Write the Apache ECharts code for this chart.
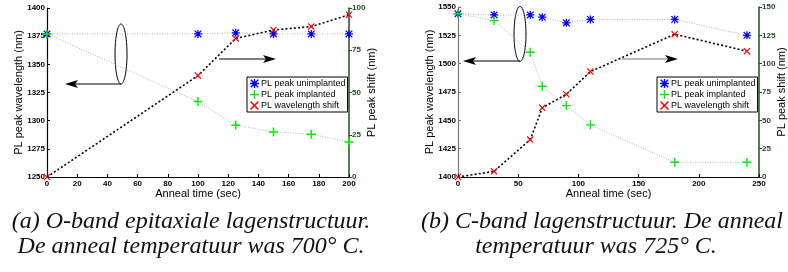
<!DOCTYPE html>
<html>
<head>
<meta charset="utf-8">
<script src="https://cdn.jsdelivr.net/npm/echarts@6/dist/echarts.min.js"></script>
<style>
  html, body { margin: 0; padding: 0; background: #fff; }
  #chart { width: 788px; height: 272px; }
</style>
</head>
<body>
<div id="chart"></div>
<script>
// (a) O-band, 700 C
const timeA = [0, 100, 125, 150, 175, 200];
const unimplA = [1377, 1377, 1378, 1377, 1377, 1377];
const implA = [1377, 1317, 1296, 1290, 1288, 1281];
const shiftA = [0, 60, 82, 87, 89, 96];

// (b) C-band, 725 C
const timeB = [0, 30, 60, 70, 90, 110, 180, 240];
const unimplB = [1544, 1543, 1543, 1541, 1536, 1539, 1539, 1525];
const implB = [1544, 1538, 1510, 1480, 1463, 1446, 1413, 1413];
const shiftB = [0, 5, 33, 61, 73, 93, 126, 111];

// as: [min, max, interval]
const xRangeA = [0, 200, 20];
const yRangeA = [1250, 1400, 25];
const y2RangeA = [0, 100, 25];
const xRangeB = [0, 250, 50];
const yRangeB = [1400, 1550, 25];
const y2RangeB = [0, 150, 25];

const names = ['PL peak unimplanted', 'PL peak implanted', 'PL wavelength shift'];
const captionA = ['(a) O-band epitaxiale lagenstructuur.', 'De anneal temperatuur was 700\u00b0 C.'];
const captionB = ['(b) C-band lagenstructuur. De anneal', 'temperatuur was 725\u00b0 C.'];

const symStar = 'path://M4.2,0H5.8V4.2H10V5.8H5.8V10H4.2V5.8H0V4.2H4.2Z M1.4,0.3L5,3.9L8.6,0.3L9.7,1.4L6.1,5L9.7,8.6L8.6,9.7L5,6.1L1.4,9.7L0.3,8.6L3.9,5L0.3,1.4Z';
const symPlus = 'path://M4.2,0H5.8V4.2H10V5.8H5.8V10H4.2V5.8H0V4.2H4.2Z';
const symCross = 'path://M1.2,0L5,3.8L8.8,0L10,1.2L6.2,5L10,8.8L8.8,10L5,6.2L1.2,10L0,8.8L3.8,5L0,1.2Z';

const green = '#1f4f1f';
const font = 'Liberation Sans, Arial, sans-serif';
const pairs = (xs, ys) => xs.map((x, i) => [x, ys[i]]);
const plain = v => String(v);

const xAxisOf = (grid, r) => ({
  type: 'value', gridIndex: grid, min: r[0], max: r[1], interval: r[2],
  name: 'Anneal time (sec)', nameLocation: 'middle', nameGap: 11, nameMoveOverlap: false,
  nameTextStyle: { fontFamily: font, fontSize: 11, color: '#000' },
  axisLine: { lineStyle: { color: '#000', width: 1.2 } },
  axisTick: { inside: true, length: 3, lineStyle: { color: '#000' } },
  axisLabel: { margin: 3, fontFamily: font, fontSize: 8, fontWeight: 'bold', color: '#000', formatter: plain },
  splitLine: { show: false }
});
const yLeftOf = (grid, r, lineColor) => ({
  type: 'value', gridIndex: grid, position: 'left', min: r[0], max: r[1], interval: r[2],
  name: 'PL peak wavelength (nm)', nameLocation: 'middle', nameGap: 23, nameRotate: 90, nameMoveOverlap: false,
  nameTextStyle: { fontFamily: font, fontSize: 11, color: '#000' },
  axisLine: { show: true, lineStyle: { color: lineColor, width: 1.2 } },
  axisTick: { inside: true, length: 3, lineStyle: { color: lineColor } },
  axisLabel: { margin: 2, fontFamily: font, fontSize: 8, fontWeight: 'bold', color: '#000', formatter: plain },
  splitLine: { show: false }
});
const yRightOf = (grid, r) => ({
  type: 'value', gridIndex: grid, position: 'right', min: r[0], max: r[1], interval: r[2],
  name: 'PL peak shift (nm)', nameLocation: 'middle', nameGap: 17, nameRotate: 90, nameMoveOverlap: false,
  nameTextStyle: { fontFamily: font, fontSize: 11, color: '#000' },
  axisLine: { show: true, lineStyle: { color: green, width: 1.5 } },
  axisTick: { inside: false, length: 3, lineStyle: { color: green } },
  axisLabel: { margin: 3, fontFamily: font, fontSize: 8, fontWeight: 'bold', color: green, formatter: plain },
  splitLine: { show: false }
});

const grayLine = { color: '#b4b4b4', width: 1, type: [1, 1.5] };
const blackLine = { color: '#000', width: 1.6, type: [2, 2.2] };

const seriesOf = (x, yAxisLeft, yAxisRight, unimpl, impl, shift) => [
  { name: names[0], type: 'line', xAxisIndex: x, yAxisIndex: yAxisLeft, data: unimpl,
    symbol: symStar, symbolSize: 8, lineStyle: grayLine, itemStyle: { color: '#0000ff' }, z: 3 },
  { name: names[1], type: 'line', xAxisIndex: x, yAxisIndex: yAxisLeft, data: impl,
    symbol: symPlus, symbolSize: 9, lineStyle: grayLine, itemStyle: { color: '#00ee00' }, z: 3 },
  { name: names[2], type: 'line', xAxisIndex: x, yAxisIndex: yAxisRight, data: shift,
    symbol: symCross, symbolSize: 7, lineStyle: blackLine, itemStyle: { color: '#ff0000' }, z: 4 }
];

const legendOf = (left) => ({
  orient: 'vertical', left: left, top: 77, padding: [2, 2, 2, 3], itemGap: 2,
  itemWidth: 9, itemHeight: 9, backgroundColor: '#fff', borderColor: '#000', borderWidth: 1,
  textStyle: { fontFamily: font, fontSize: 9, color: '#000', padding: [0, 0, 0, -3] },
  selectedMode: false,
  data: [{ name: names[0], icon: symStar }, { name: names[1], icon: symPlus }, { name: names[2], icon: symCross }]
});

// kleine annotaties: ellips + pijlen
const arrow = (x1, x2, y, lineColor) => {
  const dir = x2 > x1 ? 1 : -1;
  return [
    { type: 'line', shape: { x1: x1, y1: y, x2: x2 - dir * 4, y2: y }, style: { stroke: lineColor, lineWidth: 1.2 } },
    { type: 'polygon', shape: { points: [[x2, y], [x2 - dir * 13, y - 4], [x2 - dir * 10, y], [x2 - dir * 13, y + 4]] },
      style: { fill: '#000' } }
  ];
};
const ellipse = (cx, cy, rx, ry) => ({ type: 'ellipse', shape: { cx, cy, rx, ry }, style: { fill: null, stroke: '#000', lineWidth: 1 } });
const caption = (x, y, text) => ({
  type: 'text', x: x, y: y,
  style: { text: text, fontFamily: 'Liberation Serif, Times New Roman, serif', fontStyle: 'italic', fontSize: 24,
    fill: '#111', textAlign: 'center', textVerticalAlign: 'middle' }
});

const chart = echarts.init(document.getElementById('chart'));
chart.setOption({
  animation: false,
  backgroundColor: '#fff',
  grid: [
    { left: 47, top: 8, width: 302, height: 169 },
    { left: 458, top: 7, width: 303, height: 170 }
  ],
  xAxis: [xAxisOf(0, xRangeA), xAxisOf(1, xRangeB)],
  yAxis: [yLeftOf(0, yRangeA, '#000'), yRightOf(0, y2RangeA), yLeftOf(1, yRangeB, '#777'), yRightOf(1, y2RangeB)],
  legend: [legendOf(247), legendOf(657)],
  series: [
    ...seriesOf(0, 0, 1, pairs(timeA, unimplA), pairs(timeA, implA), pairs(timeA, shiftA)),
    ...seriesOf(1, 2, 3, pairs(timeB, unimplB), pairs(timeB, implB), pairs(timeB, shiftB))
  ],
  graphic: [
    ellipse(121, 54, 6, 30),
    ...arrow(121, 65, 84, '#000'),
    ...arrow(219, 276, 59, '#000'),
    ellipse(520, 34, 6, 27.5),
    ...arrow(520, 463, 61, '#000'),
    ...arrow(622, 678, 59, '#777'),
    caption(191, 222, captionA[0]),
    caption(191, 247, captionA[1]),
    caption(602, 222, captionB[0]),
    caption(596, 247, captionB[1])
  ]
});
</script>
</body>
</html>
